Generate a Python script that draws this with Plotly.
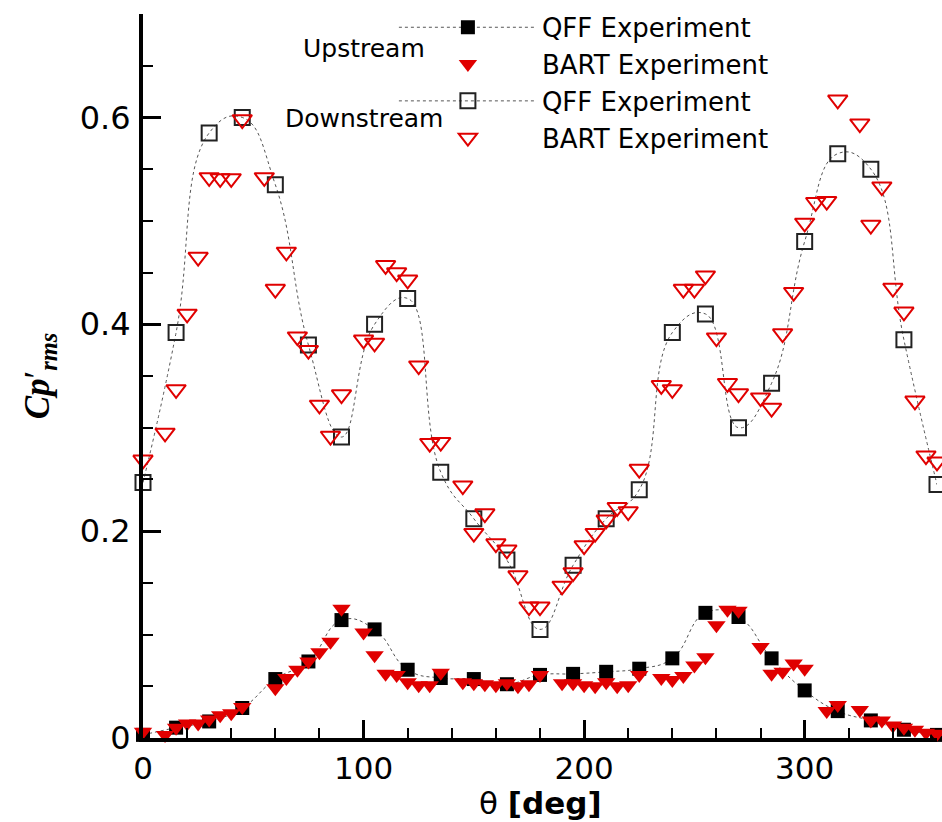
import plotly.graph_objects as go

# ---------------- data ----------------
qff_theta = [0, 15, 30, 45, 60, 75, 90, 105, 120, 135, 150, 165, 180,
             195, 210, 225, 240, 255, 270, 285, 300, 315, 330, 345, 360]
qff_up = [0.003, 0.010, 0.016, 0.029, 0.057, 0.074, 0.114, 0.105, 0.066, 0.058,
          0.057, 0.052, 0.061, 0.062, 0.064, 0.067, 0.077, 0.121, 0.117, 0.077,
          0.046, 0.026, 0.017, 0.008, 0.003]
qff_down = [0.247, 0.392, 0.585, 0.600, 0.535, 0.380, 0.291, 0.400, 0.425, 0.257,
            0.212, 0.172, 0.105, 0.167, 0.212, 0.240, 0.392, 0.410, 0.300, 0.343,
            0.480, 0.565, 0.550, 0.385, 0.245]

bart_up_theta = [0, 10, 15, 20, 25, 30, 35, 40, 45, 60, 65, 70, 75, 80, 85, 90,
                 100, 105, 110, 115, 120, 125, 130, 135, 145, 150, 155, 160, 165,
                 170, 175, 180, 190, 195, 200, 205, 210, 215, 220, 225, 235, 240,
                 245, 250, 255, 260, 265, 270, 280, 285, 290, 295, 300, 310, 315,
                 325, 330, 335, 340, 345, 350, 355, 360]
bart_up = [0.006, 0.003, 0.010, 0.014, 0.014, 0.018, 0.022, 0.024, 0.030, 0.048,
           0.058, 0.066, 0.074, 0.083, 0.093, 0.125, 0.102, 0.080, 0.062, 0.061,
           0.054, 0.051, 0.051, 0.063, 0.054, 0.053, 0.052, 0.051, 0.053, 0.050,
           0.052, 0.061, 0.053, 0.053, 0.051, 0.050, 0.054, 0.050, 0.051, 0.061,
           0.058, 0.056, 0.060, 0.070, 0.078, 0.109, 0.124, 0.123, 0.088, 0.062,
           0.064, 0.072, 0.067, 0.026, 0.032, 0.027, 0.017, 0.017, 0.012, 0.010,
           0.008, 0.005, 0.004]

bart_down_theta = [0, 10, 15, 20, 25, 30, 35, 40, 45, 55, 60, 65, 70, 75, 80, 85,
                   90, 100, 105, 110, 115, 120, 125, 130, 135, 145, 150, 155, 160,
                   165, 170, 175, 180, 190, 195, 200, 205, 210, 215, 220, 225, 235,
                   240, 245, 250, 255, 260, 265, 270, 280, 285, 290, 295, 300, 305,
                   310, 315, 325, 330, 335, 340, 345, 350, 355, 360]
bart_down = [0.269, 0.295, 0.337, 0.410, 0.465, 0.542, 0.541, 0.541, 0.598, 0.542,
             0.434, 0.470, 0.388, 0.375, 0.322, 0.292, 0.332, 0.385, 0.382, 0.457,
             0.450, 0.443, 0.360, 0.285, 0.286, 0.244, 0.198, 0.217, 0.188, 0.182,
             0.157, 0.127, 0.127, 0.147, 0.160, 0.186, 0.198, 0.211, 0.223, 0.219,
             0.260, 0.341, 0.337, 0.434, 0.434, 0.447, 0.387, 0.343, 0.333, 0.329,
             0.319, 0.391, 0.431, 0.498, 0.518, 0.519, 0.617, 0.594, 0.496, 0.533,
             0.435, 0.412, 0.326, 0.273, 0.267]

x_ticks = [0, 100, 200, 300]
y_ticks = [0, 0.2, 0.4, 0.6]
y_tick_labels = ["0", "0.2", "0.4", "0.6"]

RED = "#e00000"
LINE_COL = "#555555"
SANS = "DejaVu Sans, Liberation Sans, Arial, sans-serif"

fig = go.Figure()

fig.add_trace(go.Scatter(
    x=qff_theta, y=qff_up, name="QFF Experiment", mode="lines+markers",
    line=dict(color=LINE_COL, width=1, dash="dot", shape="spline", smoothing=1.3),
    marker=dict(symbol="square", size=14, color="black"),
    cliponaxis=False))
fig.add_trace(go.Scatter(
    x=bart_up_theta, y=bart_up, name="BART Experiment", mode="markers",
    marker=dict(symbol="triangle-down", size=16, color=RED),
    cliponaxis=False))
fig.add_trace(go.Scatter(
    x=qff_theta, y=qff_down, name="QFF Experiment", mode="lines+markers",
    line=dict(color=LINE_COL, width=1, dash="dot", shape="spline", smoothing=1.3),
    marker=dict(symbol="square-open", size=15, color="#222222", line=dict(width=2)),
    cliponaxis=False))
fig.add_trace(go.Scatter(
    x=bart_down_theta, y=bart_down, name="BART Experiment", mode="markers",
    marker=dict(symbol="triangle-down-open", size=17, color=RED, line=dict(width=2)),
    cliponaxis=False))

fig.add_annotation(text="Upstream", x=0.278, y=0.953, xref="paper", yref="paper",
                   xanchor="center", yanchor="middle", showarrow=False,
                   font=dict(size=25, color="black", family=SANS))
fig.add_annotation(text="Downstream", x=0.278, y=0.856, xref="paper", yref="paper",
                   xanchor="center", yanchor="middle", showarrow=False,
                   font=dict(size=25, color="black", family=SANS))
# x-axis title (placed as annotation to sit close to the tick labels as in the reference)
fig.add_annotation(text="θ <b>[deg]</b>", x=0.5, y=-0.0898, xref="paper", yref="paper",
                   xanchor="center", yanchor="middle", showarrow=False,
                   font=dict(size=31, color="black", family=SANS))

fig.update_layout(
    width=942, height=822,
    margin=dict(l=143, r=5, t=14, b=84, autoexpand=False),
    paper_bgcolor="white", plot_bgcolor="white",
    font=dict(family=SANS, color="black"),
    showlegend=True,
    legend=dict(x=0.316, y=1.014, xanchor="left", yanchor="top",
                bgcolor="rgba(0,0,0,0)", font=dict(size=26, family=SANS),
                itemwidth=138, tracegroupgap=0),
    xaxis=dict(range=[0, 360], showline=True, linewidth=4, linecolor="black",
               ticks="inside", ticklen=18, tickwidth=3, tickcolor="black",
               tickvals=x_ticks, ticktext=[str(v) for v in x_ticks],
               tickfont=dict(size=31), ticklabelstandoff=0, automargin=False,
               showgrid=False, zeroline=False,
               minor=dict(ticks="inside", ticklen=10, tickwidth=1.5, dtick=20,
                          tickcolor="black", showgrid=False)),
    yaxis=dict(range=[0, 0.7], showline=True, linewidth=4, linecolor="black",
               ticks="inside", ticklen=18, tickwidth=3, tickcolor="black",
               tickvals=y_ticks, ticktext=y_tick_labels,
               tickfont=dict(size=32), ticklabelstandoff=2, automargin=False,
               showgrid=False, zeroline=False,
               minor=dict(ticks="inside", ticklen=10, tickwidth=1.5, dtick=0.05,
                          tickcolor="black", showgrid=False),
               title=dict(text="<b><i>Cp</i></b>′<sub><b><i>rms</i></b></sub>",
                          font=dict(size=35, family="Liberation Serif, Times New Roman, serif"),
                          standoff=20)),
)

fig.write_html("out.html")
